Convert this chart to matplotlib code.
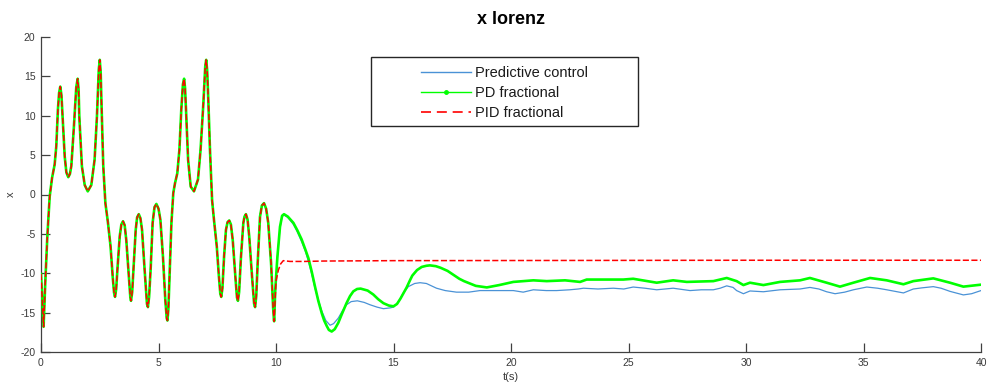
import numpy as np
import matplotlib
matplotlib.use("Agg")
import matplotlib.pyplot as plt
from matplotlib.patches import Rectangle
from matplotlib.lines import Line2D

# ---------------- data ----------------
# common chaotic Lorenz segment (all three series coincide before control starts)
CHAOS = [(0.00, -10.1), (0.11, -16.8), (0.18, -11.3), (0.27, -5.3), (0.37, -0.25),
         (0.47, 2.1), (0.58, 3.8), (0.65, 6.1), (0.72, 10.8), (0.77, 12.9), (0.82, 13.7),
         (0.87, 12.6), (0.92, 9.9), (1.01, 4.8), (1.08, 2.8), (1.16, 2.2), (1.23, 2.6),
         (1.29, 3.6), (1.40, 8.6), (1.50, 13.6), (1.56, 14.7), (1.60, 13.3), (1.63, 9.9),
         (1.74, 3.6), (1.86, 1.2), (1.99, 0.4), (2.14, 1.2), (2.28, 4.4), (2.38, 9.9),
         (2.46, 15.9), (2.50, 17.1), (2.54, 15.5), (2.57, 12.0), (2.65, 3.6), (2.74, -1.1),
         (2.85, -3.6), (2.96, -6.6), (3.05, -10.4), (3.11, -12.5), (3.15, -13.0),
         (3.20, -12.0), (3.25, -9.6), (3.35, -5.3), (3.42, -3.8), (3.49, -3.4), (3.56, -3.9),
         (3.63, -5.8), (3.73, -10.0), (3.80, -13.0), (3.83, -13.5), (3.88, -12.4),
         (3.94, -9.2), (4.03, -4.5), (4.09, -2.9), (4.16, -2.5), (4.23, -3.0), (4.30, -4.5),
         (4.41, -9.6), (4.51, -13.9), (4.55, -14.3), (4.60, -13.0), (4.67, -9.2),
         (4.75, -3.6), (4.83, -1.6), (4.91, -1.2), (5.00, -1.8), (5.08, -3.2), (5.19, -7.9),
         (5.29, -13.4), (5.35, -15.7), (5.38, -16.0), (5.42, -14.6), (5.46, -11.3),
         (5.55, -3.6), (5.63, 0.2), (5.70, 1.4), (5.80, 2.7), (5.89, 5.7), (5.97, 10.8),
         (6.04, 14.0), (6.09, 14.7), (6.13, 13.5), (6.17, 10.8), (6.26, 4.4), (6.37, 1.0),
         (6.51, 0.4), (6.68, 1.9), (6.79, 5.7), (6.91, 11.6), (6.99, 16.3), (7.03, 17.1),
         (7.07, 15.8), (7.12, 12.0), (7.19, 5.7), (7.28, -0.7), (7.36, -3.2), (7.48, -6.6),
         (7.57, -10.4), (7.63, -12.6), (7.67, -13.0), (7.72, -11.9), (7.79, -7.9),
         (7.87, -4.5), (7.94, -3.5), (8.01, -3.3), (8.08, -3.8), (8.16, -5.8), (8.27, -10.4),
         (8.34, -13.1), (8.38, -13.5), (8.43, -12.4), (8.51, -7.9), (8.61, -3.6),
         (8.66, -2.8), (8.72, -2.5), (8.79, -3.2), (8.86, -5.3), (8.98, -10.4),
         (9.07, -13.9), (9.11, -14.3), (9.16, -12.9), (9.22, -8.7), (9.32, -2.8),
         (9.40, -1.4), (9.49, -1.1), (9.58, -1.8), (9.67, -3.6), (9.79, -8.7),
         (9.88, -14.5), (9.92, -16.1)]

# Predictive control after control is switched on
PRED = [(9.97, -12.5), (10.06, -8.0), (10.17, -4.2), (10.26, -2.8), (10.34, -2.6),
        (10.50, -2.9), (10.74, -3.8), (10.90, -4.7), (11.09, -6.0), (11.25, -7.2),
        (11.38, -8.5), (11.52, -10.1), (11.66, -11.9), (11.80, -13.4), (11.95, -14.8),
        (12.12, -16.0), (12.30, -16.6), (12.45, -16.4), (12.65, -15.7), (12.82, -14.8),
        (13.00, -14.0), (13.20, -13.6), (13.46, -13.5), (13.75, -13.7), (14.00, -14.0),
        (14.30, -14.3), (14.57, -14.5), (14.85, -14.4), (15.00, -14.3), (15.20, -13.7),
        (15.42, -12.5), (15.63, -11.7), (15.90, -11.3), (16.13, -11.2), (16.40, -11.3),
        (16.83, -11.9), (17.20, -12.2), (17.68, -12.4), (18.20, -12.4), (18.68, -12.2),
        (19.30, -12.2), (20.10, -12.2), (20.52, -12.4), (20.95, -12.1), (21.50, -12.2),
        (21.94, -12.2), (22.50, -12.1), (22.86, -12.0), (23.08, -11.9), (23.70, -12.0),
        (24.35, -11.9), (24.80, -12.0), (25.20, -11.75), (25.70, -11.9), (26.20, -12.1),
        (26.90, -11.9), (27.62, -12.2), (28.10, -12.1), (28.61, -12.1), (28.90, -11.9),
        (29.18, -11.6), (29.45, -11.8), (29.60, -12.2), (29.89, -12.6), (30.17, -12.25),
        (30.74, -12.35), (31.45, -12.1), (32.30, -12.0), (32.72, -11.8), (33.10, -12.0),
        (33.43, -12.35), (33.79, -12.6), (34.20, -12.4), (34.57, -12.1), (35.14, -11.75),
        (35.60, -11.9), (35.99, -12.1), (36.70, -12.5), (37.12, -12.0), (37.50, -11.85),
        (37.97, -11.7), (38.30, -11.9), (38.68, -12.3), (39.25, -12.75), (39.60, -12.6),
        (40.00, -12.2)]

# PD fractional after control is switched on
PDF = [(9.97, -12.0), (10.06, -7.9), (10.17, -4.1), (10.26, -2.7), (10.34, -2.5),
       (10.50, -2.8), (10.74, -3.6), (10.90, -4.5), (11.09, -5.7), (11.25, -7.0),
       (11.38, -8.1), (11.52, -9.8), (11.66, -11.7), (11.80, -13.5), (11.95, -15.1),
       (12.05, -16.0), (12.16, -16.7), (12.25, -17.2), (12.37, -17.4), (12.50, -17.1),
       (12.65, -16.3), (12.80, -15.2), (13.00, -13.8), (13.15, -12.9), (13.29, -12.3),
       (13.45, -12.0), (13.60, -11.95), (13.90, -12.2), (14.14, -12.7), (14.35, -13.3),
       (14.57, -13.8), (14.80, -14.1), (15.00, -14.2), (15.15, -13.9), (15.30, -13.2),
       (15.45, -12.4), (15.56, -11.8), (15.70, -10.9), (15.80, -10.3), (16.00, -9.6),
       (16.20, -9.2), (16.40, -9.05), (16.55, -9.0), (16.80, -9.1), (17.00, -9.3),
       (17.30, -9.7), (17.55, -10.2), (17.80, -10.7), (18.00, -11.0), (18.50, -11.6),
       (18.97, -11.8), (19.50, -11.5), (20.10, -11.1), (20.95, -10.9), (21.52, -11.0),
       (22.30, -10.9), (22.94, -11.1), (23.22, -10.8), (24.07, -10.8), (24.78, -10.8),
       (25.20, -10.7), (26.20, -11.2), (26.90, -10.9), (27.48, -11.1), (28.61, -11.0),
       (29.18, -10.6), (29.60, -11.0), (29.89, -11.5), (30.17, -11.2), (30.74, -11.5),
       (31.45, -11.1), (32.30, -10.9), (32.72, -10.6), (33.43, -11.2), (34.00, -11.7),
       (34.57, -11.2), (35.28, -10.6), (35.99, -10.9), (36.70, -11.4), (37.12, -11.0),
       (37.97, -10.65), (38.68, -11.2), (39.25, -11.7), (40.00, -11.45)]

# PID fractional after control is switched on
PIDF = [(10.00, -11.0), (10.10, -9.6), (10.20, -8.8), (10.31, -8.4), (10.60, -8.5),
        (11.20, -8.5), (12.00, -8.45), (15.00, -8.4), (20.00, -8.38), (30.00, -8.35),
        (40.00, -8.35)]

LABELS = ["Predictive control", "PD fractional", "PID fractional"]
XTICKS = [0, 5, 10, 15, 20, 25, 30, 35, 40]
YTICKS = [-20, -15, -10, -5, 0, 5, 10, 15, 20]

# ---------------- figure ----------------
plt.rcParams['font.family'] = ['Liberation Sans', 'DejaVu Sans']
W, H = 989, 390
fig = plt.figure(figsize=(W / 100, H / 100), dpi=100)
ax = fig.add_axes([41 / W, 1 - 352 / H, 940 / W, 315 / H])

def series(seg):
    t = np.array([p[0] for p in CHAOS] + [p[0] for p in seg])
    x = np.array([p[1] for p in CHAOS] + [p[1] for p in seg])
    return t, x

t1, x1 = series(PRED)
t2, x2 = series(PDF)
t3, x3 = series(PIDF)

BLUE, GREEN, RED = '#4a92d6', '#00ff00', '#ff0000'
ax.plot(t1, x1, color=BLUE, lw=0.9, zorder=2)
ax.plot(t2, x2, color=GREEN, lw=1.9, zorder=3)
ax.plot(t3, x3, color=RED, lw=1.1, ls=(0, (4, 1.6)), zorder=4)

ax.set_xlim(0, 40)
ax.set_ylim(-20, 20)
ax.set_xticks(XTICKS)
ax.set_yticks(YTICKS)
ax.set_xticklabels([str(v) for v in XTICKS])
ax.set_yticklabels([str(v) for v in YTICKS])

axcol = '#404040'
for s in ['top', 'right']:
    ax.spines[s].set_visible(False)
for s in ['left', 'bottom']:
    ax.spines[s].set_color(axcol)
    ax.spines[s].set_linewidth(0.9)
ax.tick_params(direction='in', length=6.5, width=0.9, color=axcol,
               labelcolor='#3a3a3a', labelsize=7.5)
ax.tick_params(axis='y', pad=4)
ax.tick_params(axis='x', pad=4)

ax.set_xlabel('t(s)', fontsize=8, color='#3a3a3a', labelpad=3)
ax.set_ylabel('x', fontsize=8, color='#3a3a3a', labelpad=3)
ax.set_title('x lorenz', fontsize=13, fontweight='bold', color='black', pad=9)

handles = [Line2D([], [], color=BLUE, lw=1.0),
           Line2D([], [], color=GREEN, lw=1.0, marker='.', markersize=5),
           Line2D([], [], color=RED, lw=1.2, ls=(0, (6, 3.5)))]
leg = ax.legend(handles, LABELS, loc='upper left',
                bbox_to_anchor=(421 / W, 1 - 66 / H),
                bbox_transform=fig.transFigure, frameon=False, fontsize=10.5,
                handlelength=3.4, handletextpad=0.3, labelspacing=0.42,
                borderpad=0, borderaxespad=0, numpoints=1)
for txt in leg.get_texts():
    txt.set_color('#1a1a1a')

fig.add_artist(Rectangle((371 / W, 1 - 126 / H), 267 / W, 69 / H,
                         transform=fig.transFigure, fill=False,
                         edgecolor='#262626', lw=1.0))

fig.savefig('out.png', dpi=100)
